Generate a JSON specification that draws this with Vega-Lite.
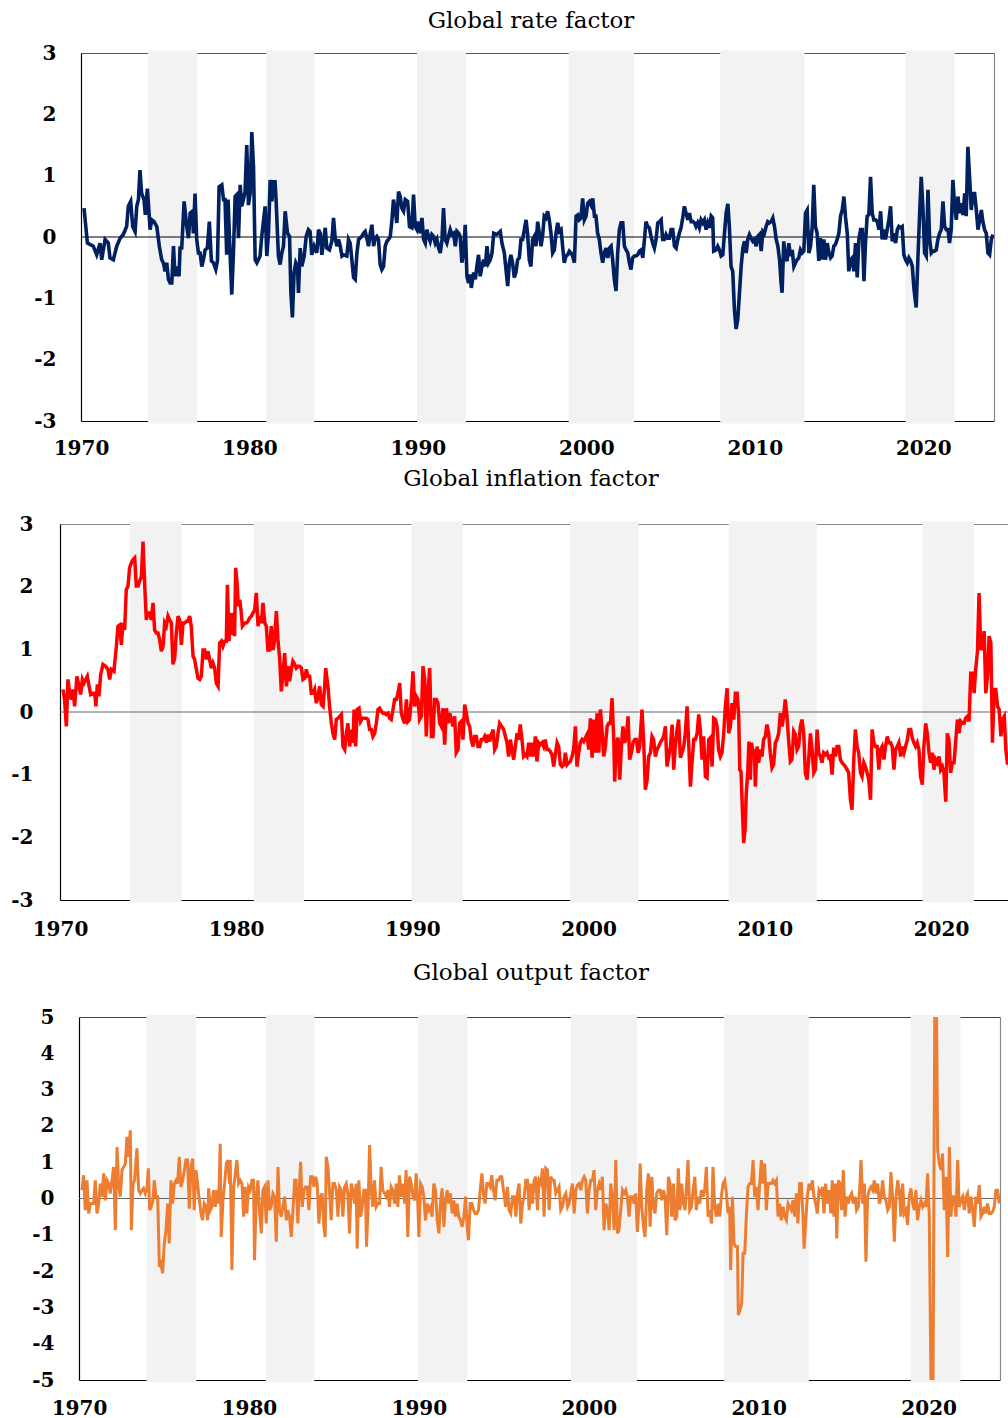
{
"$schema": "https://vega.github.io/schema/vega-lite/v6.json",
"padding": {"left": 0, "top": 10, "right": 0, "bottom": 0},
"background": "white",
"spacing": 10,
"config": {
  "view": {"stroke": null},
  "font": "DejaVu Serif",
  "axis": {"labelFont": "DejaVu Serif", "labelFontSize": 20, "labelFontWeight": "bold", "labelColor": "#000", "grid": false, "ticks": false, "title": null, "domainColor": "#000", "domainWidth": 1.2},
  "title": {"font": "DejaVu Serif", "fontSize": 23, "fontWeight": "normal", "color": "#000", "anchor": "middle", "frame": "group"}
},
"datasets": {
"bands": [{"s":1973.97,"e":1976.9},{"s":1981.0,"e":1983.85},{"s":1989.95,"e":1992.85},{"s":1998.95,"e":2002.83},{"s":2007.95,"e":2012.95},{"s":2018.95,"e":2021.87}],
"zero": [{"a":1970,"b":2024.2,"y":0}],
"rate": [
{"t":1970.18,"v":0.47},{"t":1970.38,"v":-0.1},{"t":1970.53,"v":-0.12},{"t":1970.73,"v":-0.15},{"t":1970.93,"v":-0.29},{"t":1971.13,"v":-0.1},{"t":1971.23,"v":-0.37},{"t":1971.43,"v":-0.04},{"t":1971.62,"v":-0.1},{"t":1971.72,"v":-0.34},{"t":1971.92,"v":-0.37},{"t":1972.12,"v":-0.15},{"t":1972.32,"v":-0.02},{"t":1972.51,"v":0.04},{"t":1972.71,"v":0.17},{"t":1972.81,"v":0.5},{"t":1972.95,"v":0.58},{"t":1973.07,"v":0.17},{"t":1973.21,"v":0.09},{"t":1973.31,"v":0.5},{"t":1973.41,"v":0.61},{"t":1973.5,"v":1.09},{"t":1973.6,"v":0.71},{"t":1973.74,"v":0.61},{"t":1973.82,"v":0.36},{"t":1973.94,"v":0.79},{"t":1974.04,"v":0.39},{"t":1974.1,"v":0.12},{"t":1974.2,"v":0.28},{"t":1974.34,"v":0.25},{"t":1974.5,"v":0.17},{"t":1974.65,"v":-0.15},{"t":1974.79,"v":-0.37},{"t":1974.89,"v":-0.42},{"t":1974.99,"v":-0.56},{"t":1975.09,"v":-0.42},{"t":1975.19,"v":-0.69},{"t":1975.29,"v":-0.75},{"t":1975.39,"v":-0.75},{"t":1975.49,"v":-0.15},{"t":1975.58,"v":-0.64},{"t":1975.68,"v":-0.48},{"t":1975.82,"v":-0.64},{"t":1975.88,"v":-0.18},{"t":1975.98,"v":-0.18},{"t":1976.12,"v":0.58},{"t":1976.28,"v":0.17},{"t":1976.38,"v":-0.02},{"t":1976.48,"v":0.39},{"t":1976.61,"v":0.42},{"t":1976.67,"v":0.06},{"t":1976.77,"v":0.71},{"t":1976.87,"v":-0.04},{"t":1976.97,"v":-0.26},{"t":1977.07,"v":-0.26},{"t":1977.17,"v":-0.48},{"t":1977.27,"v":-0.37},{"t":1977.37,"v":-0.21},{"t":1977.5,"v":-0.18},{"t":1977.62,"v":0.25},{"t":1977.74,"v":-0.39},{"t":1977.86,"v":-0.42},{"t":1978.0,"v":-0.53},{"t":1978.1,"v":-0.39},{"t":1978.2,"v":0.82},{"t":1978.36,"v":0.85},{"t":1978.46,"v":0.61},{"t":1978.55,"v":0.61},{"t":1978.65,"v":-0.29},{"t":1978.73,"v":0.61},{"t":1978.81,"v":0.01},{"t":1978.95,"v":-0.94},{"t":1979.05,"v":-0.26},{"t":1979.15,"v":0.66},{"t":1979.25,"v":0.69},{"t":1979.35,"v":-0.02},{"t":1979.45,"v":0.85},{"t":1979.54,"v":0.5},{"t":1979.64,"v":0.61},{"t":1979.74,"v":0.74},{"t":1979.84,"v":1.5},{"t":1979.94,"v":0.52},{"t":1980.04,"v":0.71},{"t":1980.14,"v":1.71},{"t":1980.24,"v":1.15},{"t":1980.34,"v":-0.37},{"t":1980.44,"v":-0.42},{"t":1980.53,"v":-0.37},{"t":1980.63,"v":-0.31},{"t":1980.73,"v":0.01},{"t":1980.93,"v":0.5},{"t":1981.03,"v":-0.31},{"t":1981.13,"v":0.06},{"t":1981.23,"v":0.93},{"t":1981.33,"v":0.58},{"t":1981.43,"v":0.9},{"t":1981.52,"v":0.9},{"t":1981.58,"v":0.61},{"t":1981.72,"v":-0.31},{"t":1981.82,"v":-0.45},{"t":1981.92,"v":-0.26},{"t":1982.02,"v":-0.15},{"t":1982.12,"v":0.42},{"t":1982.26,"v":0.06},{"t":1982.38,"v":0.01},{"t":1982.46,"v":-0.91},{"t":1982.55,"v":-1.31},{"t":1982.65,"v":-0.58},{"t":1982.75,"v":-0.42},{"t":1982.85,"v":-0.48},{"t":1982.91,"v":-0.91},{"t":1983.01,"v":-0.18},{"t":1983.11,"v":-0.48},{"t":1983.25,"v":-0.31},{"t":1983.37,"v":0.01},{"t":1983.5,"v":0.12},{"t":1983.6,"v":0.09},{"t":1983.7,"v":-0.29},{"t":1983.84,"v":-0.15},{"t":1984.0,"v":-0.26},{"t":1984.1,"v":0.12},{"t":1984.2,"v":0.06},{"t":1984.3,"v":-0.29},{"t":1984.5,"v":0.15},{"t":1984.59,"v":-0.18},{"t":1984.75,"v":-0.21},{"t":1984.89,"v":-0.07},{"t":1984.99,"v":0.31},{"t":1985.09,"v":-0.02},{"t":1985.19,"v":-0.15},{"t":1985.29,"v":-0.04},{"t":1985.39,"v":-0.15},{"t":1985.49,"v":-0.31},{"t":1985.58,"v":-0.29},{"t":1985.78,"v":-0.31},{"t":1985.88,"v":-0.04},{"t":1985.98,"v":-0.1},{"t":1986.08,"v":-0.37},{"t":1986.18,"v":-0.66},{"t":1986.28,"v":-0.69},{"t":1986.38,"v":-0.26},{"t":1986.48,"v":-0.04},{"t":1986.67,"v":0.01},{"t":1986.77,"v":0.06},{"t":1986.87,"v":0.09},{"t":1986.97,"v":-0.02},{"t":1987.07,"v":-0.15},{"t":1987.17,"v":0.06},{"t":1987.27,"v":0.2},{"t":1987.37,"v":-0.15},{"t":1987.47,"v":-0.02},{"t":1987.56,"v":0.01},{"t":1987.66,"v":-0.04},{"t":1987.76,"v":-0.45},{"t":1987.86,"v":-0.53},{"t":1987.96,"v":-0.48},{"t":1988.06,"v":-0.15},{"t":1988.16,"v":-0.07},{"t":1988.26,"v":-0.04},{"t":1988.36,"v":0.01},{"t":1988.46,"v":0.28},{"t":1988.55,"v":0.61},{"t":1988.65,"v":0.44},{"t":1988.75,"v":0.23},{"t":1988.85,"v":0.74},{"t":1988.95,"v":0.66},{"t":1989.05,"v":0.47},{"t":1989.15,"v":0.42},{"t":1989.25,"v":0.61},{"t":1989.39,"v":0.58},{"t":1989.5,"v":0.17},{"t":1989.64,"v":0.15},{"t":1989.74,"v":0.69},{"t":1989.84,"v":0.17},{"t":1989.94,"v":0.12},{"t":1990.04,"v":0.25},{"t":1990.14,"v":0.06},{"t":1990.24,"v":0.31},{"t":1990.34,"v":-0.04},{"t":1990.44,"v":-0.1},{"t":1990.53,"v":0.12},{"t":1990.63,"v":0.01},{"t":1990.73,"v":-0.07},{"t":1990.83,"v":0.04},{"t":1990.93,"v":0.01},{"t":1991.03,"v":-0.1},{"t":1991.13,"v":-0.04},{"t":1991.23,"v":-0.18},{"t":1991.33,"v":-0.26},{"t":1991.43,"v":-0.04},{"t":1991.52,"v":0.47},{"t":1991.62,"v":-0.04},{"t":1991.72,"v":-0.1},{"t":1991.82,"v":0.01},{"t":1991.92,"v":0.12},{"t":1992.02,"v":0.04},{"t":1992.12,"v":0.06},{"t":1992.22,"v":-0.15},{"t":1992.32,"v":0.09},{"t":1992.42,"v":0.06},{"t":1992.51,"v":0.01},{"t":1992.61,"v":-0.42},{"t":1992.71,"v":-0.26},{"t":1992.81,"v":0.2},{"t":1992.91,"v":-0.64},{"t":1993.01,"v":-0.75},{"t":1993.11,"v":-0.61},{"t":1993.17,"v":-0.83},{"t":1993.31,"v":-0.58},{"t":1993.41,"v":-0.69},{"t":1993.5,"v":-0.48},{"t":1993.6,"v":-0.29},{"t":1993.7,"v":-0.64},{"t":1993.8,"v":-0.48},{"t":1993.9,"v":-0.37},{"t":1994.0,"v":-0.48},{"t":1994.1,"v":-0.15},{"t":1994.2,"v":-0.42},{"t":1994.3,"v":-0.37},{"t":1994.4,"v":-0.26},{"t":1994.5,"v":0.06},{"t":1994.69,"v":0.04},{"t":1994.89,"v":0.09},{"t":1994.99,"v":-0.1},{"t":1995.13,"v":-0.26},{"t":1995.23,"v":-0.53},{"t":1995.33,"v":-0.8},{"t":1995.43,"v":-0.42},{"t":1995.52,"v":-0.29},{"t":1995.62,"v":-0.42},{"t":1995.72,"v":-0.66},{"t":1995.82,"v":-0.58},{"t":1995.92,"v":-0.37},{"t":1996.02,"v":-0.34},{"t":1996.12,"v":-0.04},{"t":1996.22,"v":-0.04},{"t":1996.32,"v":0.12},{"t":1996.42,"v":0.28},{"t":1996.51,"v":0.06},{"t":1996.61,"v":-0.37},{"t":1996.71,"v":-0.48},{"t":1996.81,"v":-0.04},{"t":1996.91,"v":0.01},{"t":1997.01,"v":-0.15},{"t":1997.11,"v":0.25},{"t":1997.21,"v":0.06},{"t":1997.31,"v":-0.15},{"t":1997.41,"v":0.04},{"t":1997.5,"v":0.34},{"t":1997.6,"v":0.31},{"t":1997.7,"v":0.42},{"t":1997.8,"v":0.28},{"t":1997.9,"v":0.06},{"t":1998.0,"v":-0.26},{"t":1998.1,"v":-0.21},{"t":1998.2,"v":0.06},{"t":1998.3,"v":0.23},{"t":1998.4,"v":0.09},{"t":1998.5,"v":0.12},{"t":1998.59,"v":-0.15},{"t":1998.69,"v":-0.42},{"t":1998.79,"v":-0.31},{"t":1998.89,"v":-0.29},{"t":1998.99,"v":-0.23},{"t":1999.09,"v":-0.26},{"t":1999.19,"v":-0.31},{"t":1999.29,"v":-0.42},{"t":1999.39,"v":0.34},{"t":1999.49,"v":0.36},{"t":1999.58,"v":0.28},{"t":1999.68,"v":0.31},{"t":1999.78,"v":0.63},{"t":1999.88,"v":0.28},{"t":1999.98,"v":0.34},{"t":2000.08,"v":0.55},{"t":2000.18,"v":0.58},{"t":2000.28,"v":0.52},{"t":2000.38,"v":0.63},{"t":2000.48,"v":0.34},{"t":2000.57,"v":0.34},{"t":2000.67,"v":0.06},{"t":2000.77,"v":-0.04},{"t":2000.87,"v":-0.26},{"t":2000.97,"v":-0.42},{"t":2001.07,"v":-0.26},{"t":2001.17,"v":-0.18},{"t":2001.27,"v":-0.34},{"t":2001.37,"v":-0.18},{"t":2001.47,"v":-0.15},{"t":2001.56,"v":-0.37},{"t":2001.66,"v":-0.69},{"t":2001.76,"v":-0.88},{"t":2001.86,"v":-0.26},{"t":2001.96,"v":0.12},{"t":2002.06,"v":0.23},{"t":2002.16,"v":0.23},{"t":2002.26,"v":-0.15},{"t":2002.36,"v":-0.21},{"t":2002.46,"v":-0.26},{"t":2002.55,"v":-0.42},{"t":2002.65,"v":-0.53},{"t":2002.75,"v":-0.34},{"t":2002.85,"v":-0.31},{"t":2002.95,"v":-0.31},{"t":2003.05,"v":-0.29},{"t":2003.15,"v":-0.23},{"t":2003.25,"v":-0.21},{"t":2003.35,"v":-0.34},{"t":2003.45,"v":-0.04},{"t":2003.54,"v":0.25},{"t":2003.64,"v":0.17},{"t":2003.74,"v":0.15},{"t":2003.84,"v":0.01},{"t":2003.94,"v":-0.1},{"t":2004.04,"v":-0.18},{"t":2004.14,"v":-0.04},{"t":2004.24,"v":0.23},{"t":2004.34,"v":0.25},{"t":2004.44,"v":0.28},{"t":2004.53,"v":-0.04},{"t":2004.63,"v":-0.04},{"t":2004.73,"v":0.04},{"t":2004.83,"v":-0.02},{"t":2004.93,"v":-0.02},{"t":2005.03,"v":0.12},{"t":2005.13,"v":0.12},{"t":2005.23,"v":-0.15},{"t":2005.33,"v":-0.18},{"t":2005.43,"v":-0.04},{"t":2005.52,"v":0.06},{"t":2005.62,"v":0.15},{"t":2005.72,"v":0.31},{"t":2005.82,"v":0.5},{"t":2005.92,"v":0.39},{"t":2006.02,"v":0.28},{"t":2006.12,"v":0.39},{"t":2006.22,"v":0.25},{"t":2006.32,"v":0.25},{"t":2006.42,"v":0.23},{"t":2006.51,"v":0.17},{"t":2006.61,"v":0.23},{"t":2006.71,"v":0.15},{"t":2006.81,"v":0.28},{"t":2006.91,"v":0.23},{"t":2007.01,"v":0.28},{"t":2007.11,"v":0.12},{"t":2007.21,"v":0.23},{"t":2007.31,"v":0.15},{"t":2007.41,"v":0.34},{"t":2007.5,"v":0.31},{"t":2007.56,"v":-0.23},{"t":2007.7,"v":-0.21},{"t":2007.8,"v":-0.15},{"t":2007.9,"v":-0.21},{"t":2008.0,"v":-0.31},{"t":2008.1,"v":-0.29},{"t":2008.2,"v":0.06},{"t":2008.3,"v":0.39},{"t":2008.4,"v":0.54},{"t":2008.49,"v":0.17},{"t":2008.59,"v":-0.48},{"t":2008.69,"v":-0.56},{"t":2008.79,"v":-1.18},{"t":2008.89,"v":-1.5},{"t":2008.99,"v":-1.34},{"t":2009.09,"v":-0.91},{"t":2009.19,"v":-0.48},{"t":2009.29,"v":-0.18},{"t":2009.39,"v":-0.07},{"t":2009.49,"v":-0.26},{"t":2009.58,"v":-0.04},{"t":2009.68,"v":0.04},{"t":2009.78,"v":-0.02},{"t":2009.88,"v":-0.07},{"t":2009.98,"v":-0.04},{"t":2010.08,"v":-0.15},{"t":2010.18,"v":0.01},{"t":2010.28,"v":0.04},{"t":2010.38,"v":-0.23},{"t":2010.48,"v":0.09},{"t":2010.57,"v":0.06},{"t":2010.67,"v":0.17},{"t":2010.77,"v":0.25},{"t":2010.87,"v":0.23},{"t":2010.97,"v":0.25},{"t":2011.07,"v":0.31},{"t":2011.17,"v":0.17},{"t":2011.27,"v":-0.04},{"t":2011.37,"v":-0.15},{"t":2011.47,"v":-0.37},{"t":2011.56,"v":-0.75},{"t":2011.62,"v":-0.91},{"t":2011.72,"v":-0.07},{"t":2011.82,"v":-0.37},{"t":2011.92,"v":-0.37},{"t":2012.02,"v":-0.1},{"t":2012.12,"v":-0.31},{"t":2012.22,"v":-0.21},{"t":2012.32,"v":-0.48},{"t":2012.42,"v":-0.42},{"t":2012.51,"v":-0.37},{"t":2012.61,"v":-0.34},{"t":2012.71,"v":-0.21},{"t":2012.81,"v":-0.26},{"t":2012.91,"v":-0.23},{"t":2013.01,"v":0.39},{"t":2013.11,"v":0.44},{"t":2013.21,"v":-0.26},{"t":2013.31,"v":-0.15},{"t":2013.41,"v":0.17},{"t":2013.5,"v":0.85},{"t":2013.6,"v":0.17},{"t":2013.7,"v":0.06},{"t":2013.8,"v":-0.39},{"t":2013.9,"v":-0.02},{"t":2014.0,"v":-0.37},{"t":2014.1,"v":-0.04},{"t":2014.2,"v":-0.37},{"t":2014.3,"v":-0.1},{"t":2014.4,"v":-0.26},{"t":2014.5,"v":-0.34},{"t":2014.59,"v":-0.31},{"t":2014.69,"v":-0.15},{"t":2014.79,"v":-0.12},{"t":2014.89,"v":-0.04},{"t":2014.99,"v":0.06},{"t":2015.09,"v":0.34},{"t":2015.19,"v":0.44},{"t":2015.29,"v":0.66},{"t":2015.39,"v":0.31},{"t":2015.49,"v":0.06},{"t":2015.58,"v":-0.56},{"t":2015.68,"v":-0.37},{"t":2015.78,"v":-0.34},{"t":2015.88,"v":-0.56},{"t":2015.98,"v":-0.1},{"t":2016.08,"v":-0.66},{"t":2016.18,"v":-0.04},{"t":2016.28,"v":0.12},{"t":2016.38,"v":0.12},{"t":2016.48,"v":-0.72},{"t":2016.57,"v":-0.1},{"t":2016.67,"v":0.34},{"t":2016.77,"v":0.36},{"t":2016.87,"v":0.98},{"t":2016.97,"v":0.39},{"t":2017.07,"v":0.28},{"t":2017.17,"v":0.28},{"t":2017.27,"v":0.25},{"t":2017.37,"v":0.12},{"t":2017.47,"v":0.42},{"t":2017.56,"v":-0.04},{"t":2017.66,"v":0.12},{"t":2017.76,"v":-0.04},{"t":2017.86,"v":0.12},{"t":2017.96,"v":0.28},{"t":2018.06,"v":0.5},{"t":2018.16,"v":-0.07},{"t":2018.26,"v":0.06},{"t":2018.36,"v":-0.1},{"t":2018.46,"v":0.12},{"t":2018.55,"v":0.17},{"t":2018.65,"v":0.15},{"t":2018.75,"v":0.17},{"t":2018.85,"v":-0.29},{"t":2018.95,"v":-0.37},{"t":2019.05,"v":-0.42},{"t":2019.15,"v":-0.34},{"t":2019.25,"v":-0.39},{"t":2019.35,"v":-0.48},{"t":2019.45,"v":-0.85},{"t":2019.58,"v":-1.15},{"t":2019.68,"v":-0.37},{"t":2019.78,"v":0.34},{"t":2019.88,"v":0.98},{"t":2019.98,"v":0.47},{"t":2020.08,"v":-0.26},{"t":2020.18,"v":-0.31},{"t":2020.28,"v":0.77},{"t":2020.38,"v":-0.04},{"t":2020.48,"v":-0.26},{"t":2020.57,"v":-0.23},{"t":2020.67,"v":-0.23},{"t":2020.77,"v":-0.21},{"t":2020.87,"v":-0.04},{"t":2020.97,"v":0.06},{"t":2021.07,"v":0.12},{"t":2021.17,"v":0.58},{"t":2021.27,"v":0.17},{"t":2021.37,"v":0.12},{"t":2021.47,"v":0.12},{"t":2021.56,"v":-0.1},{"t":2021.66,"v":0.12},{"t":2021.76,"v":0.93},{"t":2021.86,"v":0.52},{"t":2021.96,"v":0.28},{"t":2022.06,"v":0.66},{"t":2022.16,"v":0.39},{"t":2022.26,"v":0.55},{"t":2022.36,"v":0.36},{"t":2022.46,"v":0.71},{"t":2022.55,"v":0.34},{"t":2022.65,"v":1.47},{"t":2022.75,"v":0.98},{"t":2022.85,"v":0.44},{"t":2022.95,"v":0.71},{"t":2023.05,"v":0.71},{"t":2023.15,"v":0.44},{"t":2023.25,"v":0.12},{"t":2023.35,"v":0.28},{"t":2023.45,"v":0.44},{"t":2023.54,"v":0.25},{"t":2023.64,"v":0.12},{"t":2023.74,"v":0.06},{"t":2023.84,"v":-0.26},{"t":2023.94,"v":-0.29},{"t":2024.04,"v":-0.04},{"t":2024.14,"v":0.04}
],
"infl": [
{"t":1970.17,"v":0.36},{"t":1970.26,"v":0.2},{"t":1970.36,"v":-0.23},{"t":1970.45,"v":0.52},{"t":1970.55,"v":0.3},{"t":1970.64,"v":0.2},{"t":1970.74,"v":0.36},{"t":1970.83,"v":0.09},{"t":1970.96,"v":0.57},{"t":1971.08,"v":0.41},{"t":1971.17,"v":0.28},{"t":1971.27,"v":0.52},{"t":1971.36,"v":0.46},{"t":1971.46,"v":0.52},{"t":1971.55,"v":0.57},{"t":1971.65,"v":0.41},{"t":1971.74,"v":0.28},{"t":1971.87,"v":0.3},{"t":1971.97,"v":0.3},{"t":1972.04,"v":0.09},{"t":1972.12,"v":0.44},{"t":1972.21,"v":0.25},{"t":1972.31,"v":0.6},{"t":1972.44,"v":0.76},{"t":1972.59,"v":0.73},{"t":1972.72,"v":0.68},{"t":1972.82,"v":0.52},{"t":1972.91,"v":0.68},{"t":1973.06,"v":0.65},{"t":1973.2,"v":1.05},{"t":1973.29,"v":1.37},{"t":1973.39,"v":1.39},{"t":1973.48,"v":1.07},{"t":1973.58,"v":1.42},{"t":1973.67,"v":1.31},{"t":1973.76,"v":1.95},{"t":1973.86,"v":2.01},{"t":1973.95,"v":2.3},{"t":1974.05,"v":2.38},{"t":1974.14,"v":2.43},{"t":1974.24,"v":2.46},{"t":1974.33,"v":2.01},{"t":1974.43,"v":2.01},{"t":1974.52,"v":2.09},{"t":1974.62,"v":2.16},{"t":1974.71,"v":2.72},{"t":1974.81,"v":2.01},{"t":1974.9,"v":1.47},{"t":1974.99,"v":1.58},{"t":1975.09,"v":1.58},{"t":1975.18,"v":1.47},{"t":1975.28,"v":1.74},{"t":1975.37,"v":1.31},{"t":1975.47,"v":1.26},{"t":1975.56,"v":1.26},{"t":1975.66,"v":1.15},{"t":1975.75,"v":0.97},{"t":1975.85,"v":1.05},{"t":1975.94,"v":1.42},{"t":1976.03,"v":1.37},{"t":1976.13,"v":1.53},{"t":1976.22,"v":1.47},{"t":1976.32,"v":1.42},{"t":1976.41,"v":0.76},{"t":1976.51,"v":0.86},{"t":1976.6,"v":1.26},{"t":1976.7,"v":1.53},{"t":1976.79,"v":1.47},{"t":1976.89,"v":1.07},{"t":1976.98,"v":1.42},{"t":1977.08,"v":1.42},{"t":1977.17,"v":1.45},{"t":1977.26,"v":1.45},{"t":1977.36,"v":1.53},{"t":1977.45,"v":1.37},{"t":1977.55,"v":0.89},{"t":1977.64,"v":0.84},{"t":1977.74,"v":0.68},{"t":1977.83,"v":0.54},{"t":1977.93,"v":0.52},{"t":1978.02,"v":0.57},{"t":1978.12,"v":0.99},{"t":1978.21,"v":0.99},{"t":1978.31,"v":0.84},{"t":1978.4,"v":0.97},{"t":1978.49,"v":0.84},{"t":1978.59,"v":0.7},{"t":1978.68,"v":0.78},{"t":1978.78,"v":0.7},{"t":1978.87,"v":0.46},{"t":1978.97,"v":0.41},{"t":1979.06,"v":1.1},{"t":1979.16,"v":1.13},{"t":1979.25,"v":1.05},{"t":1979.35,"v":1.13},{"t":1979.44,"v":1.13},{"t":1979.5,"v":2.03},{"t":1979.59,"v":1.13},{"t":1979.67,"v":1.58},{"t":1979.76,"v":1.23},{"t":1979.86,"v":1.58},{"t":1979.91,"v":1.21},{"t":1979.97,"v":2.3},{"t":1980.05,"v":2.06},{"t":1980.12,"v":1.69},{"t":1980.2,"v":1.79},{"t":1980.27,"v":1.63},{"t":1980.35,"v":1.37},{"t":1980.48,"v":1.42},{"t":1980.58,"v":1.42},{"t":1980.67,"v":1.45},{"t":1980.76,"v":1.5},{"t":1980.86,"v":1.53},{"t":1980.95,"v":1.58},{"t":1981.05,"v":1.63},{"t":1981.14,"v":1.9},{"t":1981.24,"v":1.37},{"t":1981.33,"v":1.53},{"t":1981.43,"v":1.42},{"t":1981.52,"v":1.74},{"t":1981.62,"v":1.42},{"t":1981.71,"v":1.37},{"t":1981.8,"v":0.99},{"t":1981.9,"v":0.99},{"t":1981.99,"v":1.37},{"t":1982.09,"v":0.99},{"t":1982.18,"v":1.15},{"t":1982.28,"v":1.61},{"t":1982.37,"v":1.15},{"t":1982.47,"v":0.84},{"t":1982.56,"v":0.33},{"t":1982.66,"v":0.62},{"t":1982.75,"v":0.94},{"t":1982.85,"v":0.41},{"t":1982.94,"v":0.73},{"t":1983.03,"v":0.49},{"t":1983.13,"v":0.68},{"t":1983.22,"v":0.81},{"t":1983.32,"v":0.76},{"t":1983.41,"v":0.7},{"t":1983.51,"v":0.73},{"t":1983.6,"v":0.73},{"t":1983.7,"v":0.7},{"t":1983.79,"v":0.52},{"t":1983.89,"v":0.54},{"t":1983.98,"v":0.68},{"t":1984.07,"v":0.57},{"t":1984.17,"v":0.57},{"t":1984.26,"v":0.3},{"t":1984.36,"v":0.3},{"t":1984.45,"v":0.36},{"t":1984.55,"v":0.14},{"t":1984.64,"v":0.25},{"t":1984.74,"v":0.41},{"t":1984.83,"v":0.12},{"t":1984.93,"v":0.09},{"t":1985.02,"v":0.41},{"t":1985.08,"v":0.7},{"t":1985.21,"v":0.41},{"t":1985.3,"v":0.09},{"t":1985.4,"v":-0.18},{"t":1985.49,"v":-0.34},{"t":1985.59,"v":-0.44},{"t":1985.68,"v":-0.12},{"t":1985.78,"v":-0.1},{"t":1985.87,"v":-0.07},{"t":1985.97,"v":-0.04},{"t":1986.06,"v":-0.55},{"t":1986.16,"v":-0.6},{"t":1986.25,"v":-0.34},{"t":1986.34,"v":-0.18},{"t":1986.44,"v":-0.55},{"t":1986.53,"v":-0.28},{"t":1986.63,"v":-0.49},{"t":1986.69,"v":0.04},{"t":1986.78,"v":-0.55},{"t":1986.87,"v":0.04},{"t":1986.97,"v":0.06},{"t":1987.06,"v":-0.15},{"t":1987.16,"v":-0.1},{"t":1987.29,"v":-0.1},{"t":1987.39,"v":-0.1},{"t":1987.48,"v":-0.12},{"t":1987.57,"v":-0.28},{"t":1987.67,"v":-0.28},{"t":1987.76,"v":-0.39},{"t":1987.86,"v":-0.34},{"t":1987.95,"v":-0.18},{"t":1988.05,"v":0.04},{"t":1988.14,"v":0.06},{"t":1988.24,"v":0.01},{"t":1988.33,"v":-0.02},{"t":1988.43,"v":-0.02},{"t":1988.52,"v":-0.04},{"t":1988.62,"v":-0.02},{"t":1988.71,"v":-0.1},{"t":1988.8,"v":-0.12},{"t":1988.9,"v":0.04},{"t":1988.99,"v":0.2},{"t":1989.09,"v":0.2},{"t":1989.18,"v":0.3},{"t":1989.28,"v":0.46},{"t":1989.37,"v":-0.02},{"t":1989.47,"v":-0.12},{"t":1989.56,"v":-0.18},{"t":1989.66,"v":0.2},{"t":1989.75,"v":-0.15},{"t":1989.84,"v":-0.12},{"t":1989.94,"v":0.2},{"t":1990.03,"v":0.65},{"t":1990.13,"v":0.09},{"t":1990.22,"v":0.25},{"t":1990.32,"v":0.2},{"t":1990.41,"v":-0.12},{"t":1990.51,"v":-0.07},{"t":1990.6,"v":0.73},{"t":1990.7,"v":0.52},{"t":1990.79,"v":-0.39},{"t":1990.89,"v":0.3},{"t":1990.98,"v":0.7},{"t":1991.08,"v":-0.39},{"t":1991.17,"v":-0.39},{"t":1991.26,"v":0.2},{"t":1991.36,"v":0.2},{"t":1991.45,"v":0.14},{"t":1991.55,"v":-0.18},{"t":1991.64,"v":-0.23},{"t":1991.74,"v":0.06},{"t":1991.83,"v":-0.52},{"t":1991.93,"v":0.06},{"t":1992.02,"v":-0.18},{"t":1992.12,"v":-0.02},{"t":1992.21,"v":-0.12},{"t":1992.3,"v":-0.23},{"t":1992.4,"v":-0.07},{"t":1992.49,"v":-0.65},{"t":1992.59,"v":-0.6},{"t":1992.68,"v":-0.18},{"t":1992.78,"v":-0.15},{"t":1992.87,"v":-0.44},{"t":1992.97,"v":0.12},{"t":1993.06,"v":-0.02},{"t":1993.16,"v":-0.18},{"t":1993.25,"v":-0.23},{"t":1993.34,"v":-0.44},{"t":1993.44,"v":-0.55},{"t":1993.53,"v":-0.39},{"t":1993.63,"v":-0.39},{"t":1993.72,"v":-0.55},{"t":1993.82,"v":-0.55},{"t":1993.91,"v":-0.44},{"t":1994.01,"v":-0.44},{"t":1994.1,"v":-0.39},{"t":1994.2,"v":-0.49},{"t":1994.29,"v":-0.36},{"t":1994.39,"v":-0.47},{"t":1994.48,"v":-0.36},{"t":1994.58,"v":-0.28},{"t":1994.67,"v":-0.6},{"t":1994.76,"v":-0.55},{"t":1994.86,"v":-0.34},{"t":1994.95,"v":-0.18},{"t":1995.18,"v":-0.28},{"t":1995.37,"v":-0.49},{"t":1995.46,"v":-0.71},{"t":1995.56,"v":-0.44},{"t":1995.65,"v":-0.6},{"t":1995.75,"v":-0.76},{"t":1995.84,"v":-0.55},{"t":1995.94,"v":-0.34},{"t":1996.03,"v":-0.44},{"t":1996.12,"v":-0.2},{"t":1996.22,"v":-0.44},{"t":1996.31,"v":-0.71},{"t":1996.41,"v":-0.68},{"t":1996.5,"v":-0.71},{"t":1996.6,"v":-0.49},{"t":1996.69,"v":-0.71},{"t":1996.79,"v":-0.49},{"t":1996.88,"v":-0.71},{"t":1996.98,"v":-0.39},{"t":1997.07,"v":-0.79},{"t":1997.17,"v":-0.49},{"t":1997.26,"v":-0.52},{"t":1997.36,"v":-0.49},{"t":1997.45,"v":-0.55},{"t":1997.54,"v":-0.44},{"t":1997.64,"v":-0.6},{"t":1997.73,"v":-0.6},{"t":1997.83,"v":-0.63},{"t":1997.92,"v":-0.68},{"t":1998.02,"v":-0.87},{"t":1998.11,"v":-0.68},{"t":1998.21,"v":-0.49},{"t":1998.3,"v":-0.55},{"t":1998.4,"v":-0.84},{"t":1998.49,"v":-0.87},{"t":1998.59,"v":-0.84},{"t":1998.68,"v":-0.65},{"t":1998.78,"v":-0.84},{"t":1998.87,"v":-0.81},{"t":1998.96,"v":-0.79},{"t":1999.06,"v":-0.71},{"t":1999.15,"v":-0.6},{"t":1999.25,"v":-0.23},{"t":1999.34,"v":-0.87},{"t":1999.44,"v":-0.65},{"t":1999.53,"v":-0.49},{"t":1999.63,"v":-0.44},{"t":1999.72,"v":-0.47},{"t":1999.82,"v":-0.41},{"t":1999.91,"v":-0.36},{"t":2000.01,"v":-0.6},{"t":2000.1,"v":-0.1},{"t":2000.2,"v":-0.73},{"t":2000.29,"v":-0.12},{"t":2000.39,"v":-0.65},{"t":2000.48,"v":-0.02},{"t":2000.58,"v":-0.65},{"t":2000.67,"v":0.04},{"t":2000.76,"v":-0.28},{"t":2000.86,"v":-0.71},{"t":2000.95,"v":-0.55},{"t":2001.05,"v":-0.23},{"t":2001.14,"v":-0.18},{"t":2001.24,"v":-0.18},{"t":2001.33,"v":0.22},{"t":2001.43,"v":-0.44},{"t":2001.48,"v":-1.11},{"t":2001.58,"v":-0.49},{"t":2001.67,"v":-0.41},{"t":2001.77,"v":-1.08},{"t":2001.86,"v":-0.55},{"t":2001.95,"v":-0.23},{"t":2002.05,"v":-0.49},{"t":2002.14,"v":-0.39},{"t":2002.24,"v":-0.07},{"t":2002.33,"v":-0.76},{"t":2002.43,"v":-0.65},{"t":2002.52,"v":-0.49},{"t":2002.62,"v":-0.44},{"t":2002.71,"v":-0.44},{"t":2002.81,"v":-0.65},{"t":2002.9,"v":-0.55},{"t":2003.03,"v":0.04},{"t":2003.13,"v":-0.49},{"t":2003.22,"v":-1.24},{"t":2003.32,"v":-1.08},{"t":2003.41,"v":-0.71},{"t":2003.51,"v":-0.65},{"t":2003.6,"v":-0.39},{"t":2003.69,"v":-0.44},{"t":2003.79,"v":-0.71},{"t":2003.88,"v":-0.6},{"t":2003.98,"v":-0.55},{"t":2004.07,"v":-0.49},{"t":2004.17,"v":-0.44},{"t":2004.26,"v":-0.39},{"t":2004.36,"v":-0.23},{"t":2004.45,"v":-0.87},{"t":2004.55,"v":-0.71},{"t":2004.64,"v":-0.55},{"t":2004.74,"v":-0.2},{"t":2004.83,"v":-0.92},{"t":2004.92,"v":-0.55},{"t":2005.02,"v":-0.28},{"t":2005.11,"v":-0.12},{"t":2005.21,"v":-0.73},{"t":2005.3,"v":-0.65},{"t":2005.4,"v":-0.55},{"t":2005.49,"v":-0.34},{"t":2005.59,"v":0.09},{"t":2005.68,"v":-0.49},{"t":2005.78,"v":-1.19},{"t":2005.87,"v":-0.81},{"t":2005.97,"v":-0.44},{"t":2006.06,"v":-0.44},{"t":2006.16,"v":-0.34},{"t":2006.25,"v":-0.04},{"t":2006.34,"v":-0.28},{"t":2006.44,"v":-0.76},{"t":2006.53,"v":-0.39},{"t":2006.63,"v":-1.03},{"t":2006.72,"v":-1.05},{"t":2006.82,"v":-0.44},{"t":2006.91,"v":-0.41},{"t":2007.01,"v":-0.87},{"t":2007.1,"v":-0.1},{"t":2007.2,"v":-0.12},{"t":2007.29,"v":-0.23},{"t":2007.38,"v":-0.6},{"t":2007.48,"v":-0.71},{"t":2007.57,"v":-0.65},{"t":2007.67,"v":-0.34},{"t":2007.76,"v":0.09},{"t":2007.86,"v":0.38},{"t":2007.95,"v":-0.34},{"t":2008.05,"v":-0.23},{"t":2008.14,"v":0.14},{"t":2008.24,"v":-0.12},{"t":2008.33,"v":0.3},{"t":2008.43,"v":0.3},{"t":2008.52,"v":-0.07},{"t":2008.58,"v":-0.92},{"t":2008.65,"v":-0.95},{"t":2008.73,"v":-1.56},{"t":2008.8,"v":-2.09},{"t":2008.88,"v":-1.88},{"t":2008.95,"v":-1.29},{"t":2009.03,"v":-0.97},{"t":2009.1,"v":-0.47},{"t":2009.18,"v":-1.08},{"t":2009.25,"v":-0.49},{"t":2009.33,"v":-0.65},{"t":2009.41,"v":-0.6},{"t":2009.46,"v":-1.19},{"t":2009.56,"v":-0.55},{"t":2009.65,"v":-0.81},{"t":2009.75,"v":-0.6},{"t":2009.84,"v":-0.71},{"t":2009.93,"v":-0.44},{"t":2010.03,"v":-0.39},{"t":2010.12,"v":-0.2},{"t":2010.22,"v":-0.34},{"t":2010.31,"v":-0.65},{"t":2010.41,"v":-0.89},{"t":2010.5,"v":-0.84},{"t":2010.6,"v":-0.49},{"t":2010.69,"v":-0.44},{"t":2010.79,"v":-0.34},{"t":2010.88,"v":-0.02},{"t":2010.98,"v":-0.23},{"t":2011.07,"v":-0.07},{"t":2011.16,"v":0.2},{"t":2011.26,"v":-0.07},{"t":2011.35,"v":-0.44},{"t":2011.45,"v":-0.79},{"t":2011.54,"v":-0.76},{"t":2011.64,"v":-0.31},{"t":2011.73,"v":-0.36},{"t":2011.83,"v":-0.6},{"t":2011.92,"v":-0.55},{"t":2012.02,"v":-0.23},{"t":2012.11,"v":-0.12},{"t":2012.21,"v":-0.34},{"t":2012.3,"v":-0.97},{"t":2012.4,"v":-1.08},{"t":2012.49,"v":-0.76},{"t":2012.59,"v":-0.34},{"t":2012.68,"v":-0.6},{"t":2012.78,"v":-0.97},{"t":2012.87,"v":-0.92},{"t":2012.97,"v":-0.28},{"t":2013.06,"v":-0.65},{"t":2013.15,"v":-0.71},{"t":2013.25,"v":-0.81},{"t":2013.34,"v":-0.65},{"t":2013.44,"v":-0.68},{"t":2013.53,"v":-0.65},{"t":2013.63,"v":-0.73},{"t":2013.72,"v":-0.71},{"t":2013.82,"v":-1.0},{"t":2013.91,"v":-0.57},{"t":2014.01,"v":-0.71},{"t":2014.1,"v":-0.55},{"t":2014.2,"v":-0.55},{"t":2014.29,"v":-0.76},{"t":2014.39,"v":-0.81},{"t":2014.48,"v":-0.84},{"t":2014.57,"v":-0.87},{"t":2014.67,"v":-0.92},{"t":2014.76,"v":-0.97},{"t":2014.86,"v":-1.4},{"t":2014.95,"v":-1.56},{"t":2015.05,"v":-0.76},{"t":2015.14,"v":-0.28},{"t":2015.24,"v":-0.55},{"t":2015.33,"v":-0.65},{"t":2015.43,"v":-0.97},{"t":2015.52,"v":-1.03},{"t":2015.62,"v":-0.81},{"t":2015.71,"v":-0.87},{"t":2015.81,"v":-0.97},{"t":2015.9,"v":-1.08},{"t":2016.0,"v":-1.4},{"t":2016.09,"v":-0.28},{"t":2016.19,"v":-0.49},{"t":2016.28,"v":-0.55},{"t":2016.38,"v":-0.55},{"t":2016.47,"v":-0.92},{"t":2016.57,"v":-0.6},{"t":2016.66,"v":-0.55},{"t":2016.76,"v":-0.76},{"t":2016.85,"v":-0.55},{"t":2016.95,"v":-0.39},{"t":2017.04,"v":-0.49},{"t":2017.14,"v":-0.49},{"t":2017.23,"v":-0.55},{"t":2017.33,"v":-0.92},{"t":2017.42,"v":-0.6},{"t":2017.52,"v":-0.55},{"t":2017.61,"v":-0.49},{"t":2017.71,"v":-0.71},{"t":2017.8,"v":-0.55},{"t":2017.9,"v":-0.65},{"t":2017.99,"v":-0.55},{"t":2018.09,"v":-0.44},{"t":2018.18,"v":-0.28},{"t":2018.28,"v":-0.28},{"t":2018.37,"v":-0.41},{"t":2018.46,"v":-0.49},{"t":2018.56,"v":-0.55},{"t":2018.65,"v":-0.49},{"t":2018.75,"v":-0.6},{"t":2018.84,"v":-1.03},{"t":2018.94,"v":-1.16},{"t":2019.03,"v":-0.55},{"t":2019.13,"v":-0.18},{"t":2019.22,"v":-0.34},{"t":2019.32,"v":-0.65},{"t":2019.41,"v":-0.81},{"t":2019.51,"v":-0.65},{"t":2019.6,"v":-0.92},{"t":2019.7,"v":-0.76},{"t":2019.79,"v":-0.81},{"t":2019.89,"v":-0.71},{"t":2019.98,"v":-0.92},{"t":2020.08,"v":-0.87},{"t":2020.17,"v":-0.97},{"t":2020.27,"v":-1.43},{"t":2020.36,"v":-0.34},{"t":2020.45,"v":-0.44},{"t":2020.55,"v":-0.97},{"t":2020.64,"v":-0.81},{"t":2020.74,"v":-0.81},{"t":2020.83,"v":-0.49},{"t":2020.93,"v":-0.12},{"t":2021.02,"v":-0.34},{"t":2021.12,"v":-0.15},{"t":2021.21,"v":-0.18},{"t":2021.31,"v":-0.18},{"t":2021.4,"v":-0.1},{"t":2021.5,"v":-0.07},{"t":2021.59,"v":-0.15},{"t":2021.69,"v":0.62},{"t":2021.78,"v":0.62},{"t":2021.88,"v":0.3},{"t":2021.97,"v":0.68},{"t":2022.07,"v":0.97},{"t":2022.16,"v":1.9},{"t":2022.26,"v":0.99},{"t":2022.35,"v":1.05},{"t":2022.45,"v":1.29},{"t":2022.54,"v":0.3},{"t":2022.64,"v":0.57},{"t":2022.73,"v":1.21},{"t":2022.83,"v":1.1},{"t":2022.92,"v":-0.49},{"t":2023.02,"v":0.36},{"t":2023.11,"v":0.36},{"t":2023.21,"v":0.09},{"t":2023.3,"v":0.04},{"t":2023.4,"v":-0.39},{"t":2023.49,"v":-0.12},{"t":2023.59,"v":-0.07},{"t":2023.68,"v":-0.6},{"t":2023.78,"v":-0.84},{"t":2023.9,"v":-0.7},{"t":2024.05,"v":-0.6}
],
"out": [
{"t":1970.18,"v":0.23},{"t":1970.27,"v":0.64},{"t":1970.37,"v":-0.32},{"t":1970.47,"v":0.5},{"t":1970.57,"v":-0.41},{"t":1970.67,"v":-0.14},{"t":1970.76,"v":-0.14},{"t":1970.86,"v":-0.14},{"t":1970.96,"v":0.5},{"t":1971.06,"v":-0.41},{"t":1971.16,"v":-0.14},{"t":1971.25,"v":0.41},{"t":1971.35,"v":0.05},{"t":1971.45,"v":0.69},{"t":1971.55,"v":-0.05},{"t":1971.65,"v":0.5},{"t":1971.75,"v":0.41},{"t":1971.84,"v":0.14},{"t":1971.94,"v":0.5},{"t":1972.04,"v":0.87},{"t":1972.14,"v":-0.87},{"t":1972.24,"v":1.42},{"t":1972.33,"v":0.41},{"t":1972.43,"v":0.05},{"t":1972.53,"v":0.78},{"t":1972.63,"v":0.87},{"t":1972.73,"v":0.96},{"t":1972.82,"v":1.7},{"t":1972.92,"v":1.15},{"t":1973.02,"v":1.88},{"t":1973.08,"v":-0.87},{"t":1973.18,"v":0.41},{"t":1973.27,"v":0.5},{"t":1973.41,"v":1.38},{"t":1973.51,"v":0.23},{"t":1973.61,"v":0.14},{"t":1973.71,"v":0.23},{"t":1973.8,"v":0.28},{"t":1973.9,"v":0.14},{"t":1974.0,"v":0.28},{"t":1974.08,"v":0.83},{"t":1974.16,"v":-0.32},{"t":1974.25,"v":-0.23},{"t":1974.35,"v":-0.05},{"t":1974.43,"v":0.5},{"t":1974.53,"v":0.05},{"t":1974.63,"v":0.05},{"t":1974.73,"v":-1.88},{"t":1974.82,"v":-1.79},{"t":1974.92,"v":-2.06},{"t":1975.02,"v":-1.24},{"t":1975.12,"v":-0.87},{"t":1975.22,"v":-0.14},{"t":1975.31,"v":-1.24},{"t":1975.41,"v":0.5},{"t":1975.51,"v":-0.14},{"t":1975.61,"v":0.41},{"t":1975.71,"v":0.5},{"t":1975.8,"v":0.41},{"t":1975.9,"v":1.15},{"t":1976.0,"v":0.32},{"t":1976.1,"v":0.5},{"t":1976.2,"v":0.78},{"t":1976.29,"v":1.06},{"t":1976.39,"v":1.06},{"t":1976.49,"v":-0.28},{"t":1976.59,"v":0.87},{"t":1976.69,"v":1.1},{"t":1976.78,"v":-0.32},{"t":1976.88,"v":0.78},{"t":1976.98,"v":0.41},{"t":1977.08,"v":-0.05},{"t":1977.18,"v":-0.41},{"t":1977.27,"v":-0.6},{"t":1977.37,"v":-0.14},{"t":1977.47,"v":-0.23},{"t":1977.57,"v":-0.6},{"t":1977.63,"v":0.28},{"t":1977.73,"v":-0.32},{"t":1977.82,"v":-0.23},{"t":1977.92,"v":0.23},{"t":1978.02,"v":-0.23},{"t":1978.12,"v":0.23},{"t":1978.22,"v":-0.14},{"t":1978.31,"v":1.51},{"t":1978.37,"v":-1.06},{"t":1978.47,"v":-0.05},{"t":1978.57,"v":0.41},{"t":1978.67,"v":0.96},{"t":1978.76,"v":1.06},{"t":1978.86,"v":0.41},{"t":1978.9,"v":1.06},{"t":1979.0,"v":-1.97},{"t":1979.1,"v":0.32},{"t":1979.2,"v":0.69},{"t":1979.29,"v":1.06},{"t":1979.39,"v":0.41},{"t":1979.49,"v":0.5},{"t":1979.59,"v":0.41},{"t":1979.69,"v":-0.5},{"t":1979.78,"v":0.32},{"t":1979.88,"v":-0.41},{"t":1979.98,"v":0.32},{"t":1980.08,"v":0.23},{"t":1980.18,"v":0.5},{"t":1980.27,"v":0.5},{"t":1980.33,"v":-1.7},{"t":1980.43,"v":0.05},{"t":1980.53,"v":0.5},{"t":1980.63,"v":-0.41},{"t":1980.73,"v":-0.96},{"t":1980.82,"v":0.23},{"t":1980.92,"v":0.32},{"t":1981.02,"v":-0.69},{"t":1981.12,"v":0.5},{"t":1981.22,"v":-0.32},{"t":1981.31,"v":-0.23},{"t":1981.41,"v":0.14},{"t":1981.51,"v":0.05},{"t":1981.61,"v":-1.19},{"t":1981.71,"v":0.87},{"t":1981.8,"v":-0.32},{"t":1981.9,"v":-0.5},{"t":1982.0,"v":-0.23},{"t":1982.1,"v":0.05},{"t":1982.2,"v":-0.6},{"t":1982.29,"v":-0.32},{"t":1982.39,"v":-0.5},{"t":1982.49,"v":-1.06},{"t":1982.59,"v":-0.32},{"t":1982.69,"v":0.5},{"t":1982.78,"v":0.5},{"t":1982.88,"v":-0.69},{"t":1982.98,"v":0.41},{"t":1983.04,"v":1.01},{"t":1983.14,"v":-0.23},{"t":1983.24,"v":0.23},{"t":1983.33,"v":0.32},{"t":1983.43,"v":0.32},{"t":1983.53,"v":-0.32},{"t":1983.63,"v":0.6},{"t":1983.73,"v":0.6},{"t":1983.82,"v":0.32},{"t":1983.92,"v":0.6},{"t":1984.02,"v":0.41},{"t":1984.12,"v":-0.69},{"t":1984.22,"v":0.05},{"t":1984.31,"v":0.14},{"t":1984.41,"v":-0.78},{"t":1984.49,"v":-1.06},{"t":1984.55,"v":1.15},{"t":1984.65,"v":0.87},{"t":1984.75,"v":0.14},{"t":1984.84,"v":-0.6},{"t":1984.94,"v":0.41},{"t":1985.04,"v":0.41},{"t":1985.14,"v":0.23},{"t":1985.24,"v":-0.5},{"t":1985.33,"v":0.32},{"t":1985.43,"v":0.23},{"t":1985.53,"v":-0.5},{"t":1985.63,"v":0.32},{"t":1985.73,"v":0.41},{"t":1985.82,"v":0.14},{"t":1985.92,"v":-0.96},{"t":1986.02,"v":0.41},{"t":1986.12,"v":0.23},{"t":1986.22,"v":-0.14},{"t":1986.31,"v":0.41},{"t":1986.37,"v":-1.38},{"t":1986.47,"v":0.5},{"t":1986.57,"v":-0.5},{"t":1986.67,"v":-0.23},{"t":1986.76,"v":0.23},{"t":1986.86,"v":0.23},{"t":1986.92,"v":-1.33},{"t":1987.02,"v":-0.14},{"t":1987.1,"v":1.47},{"t":1987.2,"v":0.23},{"t":1987.29,"v":-0.23},{"t":1987.39,"v":0.5},{"t":1987.49,"v":-0.23},{"t":1987.59,"v":-0.14},{"t":1987.69,"v":-0.14},{"t":1987.78,"v":0.87},{"t":1987.88,"v":0.23},{"t":1987.98,"v":0.14},{"t":1988.08,"v":0.05},{"t":1988.18,"v":0.23},{"t":1988.27,"v":-0.23},{"t":1988.37,"v":0.32},{"t":1988.47,"v":0.23},{"t":1988.57,"v":-0.14},{"t":1988.67,"v":0.41},{"t":1988.76,"v":-0.23},{"t":1988.86,"v":0.64},{"t":1988.96,"v":0.05},{"t":1989.06,"v":0.41},{"t":1989.16,"v":-0.14},{"t":1989.25,"v":0.78},{"t":1989.35,"v":-1.06},{"t":1989.45,"v":0.6},{"t":1989.55,"v":0.41},{"t":1989.65,"v":0.05},{"t":1989.75,"v":-0.05},{"t":1989.84,"v":0.69},{"t":1989.94,"v":-0.14},{"t":1990.0,"v":-1.06},{"t":1990.1,"v":0.41},{"t":1990.2,"v":0.32},{"t":1990.29,"v":0.05},{"t":1990.39,"v":-0.6},{"t":1990.49,"v":-0.14},{"t":1990.59,"v":-0.32},{"t":1990.69,"v":-0.23},{"t":1990.78,"v":-0.5},{"t":1990.88,"v":0.41},{"t":1990.98,"v":0.23},{"t":1991.08,"v":-0.6},{"t":1991.18,"v":-0.96},{"t":1991.27,"v":-0.14},{"t":1991.37,"v":0.28},{"t":1991.47,"v":-0.78},{"t":1991.57,"v":-0.05},{"t":1991.67,"v":0.23},{"t":1991.76,"v":-0.14},{"t":1991.86,"v":0.14},{"t":1991.96,"v":-0.41},{"t":1992.06,"v":-0.05},{"t":1992.16,"v":-0.5},{"t":1992.25,"v":-0.14},{"t":1992.35,"v":-0.5},{"t":1992.45,"v":-0.6},{"t":1992.55,"v":-0.78},{"t":1992.65,"v":-0.5},{"t":1992.75,"v":0.05},{"t":1992.84,"v":-0.78},{"t":1992.92,"v":-1.15},{"t":1993.02,"v":-0.14},{"t":1993.12,"v":-0.14},{"t":1993.22,"v":-0.32},{"t":1993.31,"v":-0.41},{"t":1993.41,"v":-0.41},{"t":1993.51,"v":-0.32},{"t":1993.61,"v":0.23},{"t":1993.71,"v":0.69},{"t":1993.8,"v":0.14},{"t":1993.9,"v":-0.14},{"t":1994.0,"v":0.41},{"t":1994.1,"v":0.41},{"t":1994.2,"v":0.32},{"t":1994.29,"v":0.64},{"t":1994.39,"v":0.23},{"t":1994.49,"v":-0.05},{"t":1994.59,"v":0.5},{"t":1994.69,"v":0.5},{"t":1994.78,"v":0.6},{"t":1994.88,"v":0.6},{"t":1994.98,"v":0.23},{"t":1995.11,"v":-0.23},{"t":1995.21,"v":0.32},{"t":1995.31,"v":-0.32},{"t":1995.41,"v":-0.41},{"t":1995.51,"v":0.05},{"t":1995.61,"v":0.05},{"t":1995.71,"v":-0.5},{"t":1995.8,"v":0.14},{"t":1995.9,"v":0.41},{"t":1996.0,"v":-0.69},{"t":1996.1,"v":-0.14},{"t":1996.2,"v":0.05},{"t":1996.29,"v":0.5},{"t":1996.39,"v":0.5},{"t":1996.49,"v":-0.32},{"t":1996.59,"v":0.41},{"t":1996.69,"v":-0.14},{"t":1996.78,"v":0.5},{"t":1996.88,"v":0.6},{"t":1996.98,"v":-0.32},{"t":1997.08,"v":0.5},{"t":1997.18,"v":0.41},{"t":1997.27,"v":0.83},{"t":1997.37,"v":-0.5},{"t":1997.47,"v":0.83},{"t":1997.57,"v":0.78},{"t":1997.67,"v":-0.32},{"t":1997.76,"v":0.6},{"t":1997.86,"v":0.5},{"t":1997.96,"v":0.5},{"t":1998.06,"v":0.14},{"t":1998.16,"v":0.23},{"t":1998.25,"v":0.32},{"t":1998.35,"v":-0.32},{"t":1998.45,"v":-0.23},{"t":1998.55,"v":0.05},{"t":1998.65,"v":0.14},{"t":1998.75,"v":-0.23},{"t":1998.84,"v":-0.14},{"t":1998.94,"v":0.14},{"t":1999.04,"v":0.41},{"t":1999.14,"v":-0.41},{"t":1999.24,"v":0.23},{"t":1999.33,"v":0.37},{"t":1999.43,"v":0.41},{"t":1999.53,"v":0.23},{"t":1999.63,"v":0.5},{"t":1999.73,"v":0.6},{"t":1999.82,"v":0.5},{"t":1999.92,"v":-0.41},{"t":2000.02,"v":0.23},{"t":2000.12,"v":0.5},{"t":2000.22,"v":0.5},{"t":2000.31,"v":0.78},{"t":2000.41,"v":-0.32},{"t":2000.51,"v":0.23},{"t":2000.61,"v":0.41},{"t":2000.71,"v":0.23},{"t":2000.8,"v":0.6},{"t":2000.9,"v":-0.87},{"t":2001.0,"v":-0.14},{"t":2001.1,"v":-0.32},{"t":2001.2,"v":-0.87},{"t":2001.29,"v":0.41},{"t":2001.39,"v":0.05},{"t":2001.49,"v":-0.87},{"t":2001.59,"v":1.06},{"t":2001.69,"v":-0.96},{"t":2001.78,"v":-0.87},{"t":2001.88,"v":-0.32},{"t":2001.98,"v":0.23},{"t":2002.08,"v":0.14},{"t":2002.18,"v":0.23},{"t":2002.27,"v":0.05},{"t":2002.37,"v":-0.5},{"t":2002.47,"v":0.05},{"t":2002.57,"v":0.05},{"t":2002.67,"v":-0.14},{"t":2002.76,"v":0.14},{"t":2002.86,"v":-0.92},{"t":2002.96,"v":-0.14},{"t":2003.02,"v":0.96},{"t":2003.12,"v":-0.23},{"t":2003.22,"v":-0.78},{"t":2003.31,"v":-1.06},{"t":2003.41,"v":0.23},{"t":2003.51,"v":0.69},{"t":2003.61,"v":-0.78},{"t":2003.71,"v":0.6},{"t":2003.8,"v":-0.23},{"t":2003.9,"v":-0.41},{"t":2004.0,"v":0.14},{"t":2004.1,"v":0.23},{"t":2004.2,"v":0.23},{"t":2004.29,"v":-0.05},{"t":2004.39,"v":0.23},{"t":2004.49,"v":0.05},{"t":2004.59,"v":-1.01},{"t":2004.69,"v":0.6},{"t":2004.78,"v":0.41},{"t":2004.88,"v":-0.5},{"t":2004.98,"v":0.41},{"t":2005.08,"v":-0.6},{"t":2005.18,"v":-0.5},{"t":2005.27,"v":0.83},{"t":2005.37,"v":-0.32},{"t":2005.47,"v":0.41},{"t":2005.57,"v":-0.14},{"t":2005.67,"v":-0.32},{"t":2005.76,"v":0.41},{"t":2005.84,"v":1.06},{"t":2005.94,"v":-0.32},{"t":2006.04,"v":-0.23},{"t":2006.14,"v":0.23},{"t":2006.24,"v":0.6},{"t":2006.33,"v":-0.32},{"t":2006.43,"v":0.05},{"t":2006.53,"v":-0.14},{"t":2006.63,"v":0.23},{"t":2006.73,"v":0.05},{"t":2006.82,"v":0.23},{"t":2006.92,"v":0.87},{"t":2007.02,"v":-0.5},{"t":2007.12,"v":-0.32},{"t":2007.22,"v":-0.69},{"t":2007.31,"v":0.87},{"t":2007.41,"v":-0.23},{"t":2007.51,"v":-0.5},{"t":2007.61,"v":-0.14},{"t":2007.71,"v":-0.5},{"t":2007.8,"v":0.05},{"t":2007.9,"v":0.41},{"t":2008.0,"v":0.5},{"t":2008.1,"v":0.14},{"t":2008.2,"v":-0.41},{"t":2008.29,"v":-0.23},{"t":2008.35,"v":-1.97},{"t":2008.45,"v":0.05},{"t":2008.55,"v":-1.24},{"t":2008.65,"v":-1.33},{"t":2008.75,"v":-1.33},{"t":2008.8,"v":-3.21},{"t":2008.9,"v":-3.07},{"t":2009.0,"v":-2.89},{"t":2009.08,"v":-1.51},{"t":2009.18,"v":-1.51},{"t":2009.27,"v":-0.5},{"t":2009.37,"v":0.32},{"t":2009.47,"v":0.41},{"t":2009.57,"v":0.41},{"t":2009.67,"v":1.06},{"t":2009.76,"v":0.05},{"t":2009.86,"v":0.32},{"t":2009.96,"v":-0.32},{"t":2010.06,"v":0.41},{"t":2010.16,"v":1.06},{"t":2010.25,"v":0.41},{"t":2010.35,"v":0.96},{"t":2010.45,"v":-0.32},{"t":2010.55,"v":0.41},{"t":2010.65,"v":0.41},{"t":2010.75,"v":0.41},{"t":2010.84,"v":0.5},{"t":2010.94,"v":0.41},{"t":2011.04,"v":0.5},{"t":2011.14,"v":-0.5},{"t":2011.24,"v":-0.14},{"t":2011.33,"v":-0.6},{"t":2011.43,"v":-0.23},{"t":2011.53,"v":-0.5},{"t":2011.63,"v":-0.6},{"t":2011.73,"v":-0.14},{"t":2011.82,"v":-0.23},{"t":2011.92,"v":-0.32},{"t":2012.02,"v":-0.05},{"t":2012.12,"v":-0.5},{"t":2012.22,"v":0.14},{"t":2012.31,"v":-0.69},{"t":2012.41,"v":0.41},{"t":2012.51,"v":0.41},{"t":2012.61,"v":-0.5},{"t":2012.67,"v":-1.38},{"t":2012.76,"v":-0.69},{"t":2012.86,"v":0.05},{"t":2012.96,"v":0.41},{"t":2013.06,"v":0.23},{"t":2013.16,"v":0.5},{"t":2013.25,"v":0.05},{"t":2013.35,"v":-0.14},{"t":2013.45,"v":-0.41},{"t":2013.55,"v":0.23},{"t":2013.65,"v":0.14},{"t":2013.75,"v":0.32},{"t":2013.84,"v":-0.41},{"t":2013.94,"v":0.41},{"t":2014.04,"v":-0.14},{"t":2014.14,"v":0.23},{"t":2014.24,"v":-0.41},{"t":2014.33,"v":0.5},{"t":2014.43,"v":-0.5},{"t":2014.53,"v":0.41},{"t":2014.59,"v":-1.1},{"t":2014.69,"v":0.5},{"t":2014.78,"v":0.41},{"t":2014.88,"v":-0.32},{"t":2014.98,"v":0.78},{"t":2015.08,"v":-0.5},{"t":2015.18,"v":0.05},{"t":2015.27,"v":-0.14},{"t":2015.37,"v":0.05},{"t":2015.47,"v":0.14},{"t":2015.57,"v":-0.14},{"t":2015.67,"v":0.05},{"t":2015.76,"v":-0.32},{"t":2015.86,"v":-0.23},{"t":2015.96,"v":0.41},{"t":2016.02,"v":1.06},{"t":2016.12,"v":-0.14},{"t":2016.22,"v":0.41},{"t":2016.31,"v":-1.74},{"t":2016.41,"v":0.05},{"t":2016.51,"v":0.23},{"t":2016.61,"v":0.32},{"t":2016.71,"v":0.23},{"t":2016.8,"v":0.5},{"t":2016.9,"v":0.14},{"t":2017.0,"v":0.41},{"t":2017.1,"v":-0.14},{"t":2017.2,"v":0.05},{"t":2017.29,"v":0.5},{"t":2017.39,"v":0.05},{"t":2017.49,"v":-0.05},{"t":2017.59,"v":-0.32},{"t":2017.69,"v":-0.23},{"t":2017.78,"v":0.73},{"t":2017.88,"v":0.05},{"t":2017.98,"v":-1.19},{"t":2018.08,"v":0.05},{"t":2018.18,"v":0.5},{"t":2018.27,"v":0.23},{"t":2018.37,"v":-0.5},{"t":2018.47,"v":0.41},{"t":2018.57,"v":-0.41},{"t":2018.67,"v":-0.32},{"t":2018.76,"v":-0.73},{"t":2018.86,"v":0.05},{"t":2018.96,"v":0.28},{"t":2019.06,"v":-0.14},{"t":2019.16,"v":-0.32},{"t":2019.25,"v":0.23},{"t":2019.35,"v":-0.6},{"t":2019.45,"v":-0.23},{"t":2019.55,"v":-0.05},{"t":2019.65,"v":-0.23},{"t":2019.75,"v":-0.14},{"t":2019.84,"v":-0.23},{"t":2019.94,"v":0.69},{"t":2020.04,"v":-0.5},{"t":2020.22,"v":-9},{"t":2020.4,"v":9},{"t":2020.53,"v":1.33},{"t":2020.63,"v":0.96},{"t":2020.73,"v":0.78},{"t":2020.82,"v":1.24},{"t":2020.92,"v":-0.32},{"t":2021.02,"v":0.6},{"t":2021.12,"v":-1.61},{"t":2021.22,"v":1.42},{"t":2021.31,"v":-0.5},{"t":2021.41,"v":0.05},{"t":2021.51,"v":0.05},{"t":2021.61,"v":-0.5},{"t":2021.71,"v":1.06},{"t":2021.8,"v":-0.23},{"t":2021.9,"v":-0.05},{"t":2022.0,"v":0.05},{"t":2022.1,"v":-0.32},{"t":2022.2,"v":0.05},{"t":2022.29,"v":0.14},{"t":2022.39,"v":-0.41},{"t":2022.49,"v":0.05},{"t":2022.59,"v":-0.32},{"t":2022.69,"v":-0.78},{"t":2022.78,"v":0.05},{"t":2022.88,"v":-0.14},{"t":2022.98,"v":0.37},{"t":2023.08,"v":-0.5},{"t":2023.18,"v":-0.41},{"t":2023.27,"v":-0.23},{"t":2023.37,"v":-0.41},{"t":2023.47,"v":-0.14},{"t":2023.57,"v":-0.41},{"t":2023.67,"v":-0.41},{"t":2023.76,"v":-0.37},{"t":2023.86,"v":-0.23},{"t":2023.96,"v":0.23},{"t":2024.06,"v":0.23},{"t":2024.16,"v":-0.14}
]
},
"vconcat": [
{
  "width": 934, "height": 368,
  "title": {"text": "Global rate factor", "dx": 4, "offset": 10},
  "layer": [
    {"data": {"name": "bands"}, "mark": {"type": "rect", "color": "#F2F2F2"},
     "encoding": {
       "x": {"field": "s", "type": "quantitative", "scale": {"domain": [1970, 2024.2], "range": [21, 934], "nice": false, "zero": false}, "axis": {"orient": "top", "labels": false, "domainColor": "#555"}},
       "x2": {"field": "e"},
       "y": {"datum": -3.04, "type": "quantitative", "scale": {"domain": [-3, 3], "nice": false, "zero": false}, "axis": {"orient": "right", "labels": false, "domainColor": "#888"}},
       "y2": {"datum": 3.04}
     }},
    {"data": {"name": "zero"}, "mark": {"type": "rule", "color": "#000", "strokeWidth": 1}, "encoding": {"x": {"field": "a", "type": "quantitative", "axis": null}, "x2": {"field": "b"}, "y": {"field": "y", "type": "quantitative", "axis": null}}},
    {"data": {"name": "rate"}, "mark": {"type": "line", "color": "#002060", "strokeWidth": 3.6, "clip": true},
     "encoding": {
       "x": {"field": "t", "type": "quantitative", "axis": {"orient": "bottom", "values": [1970, 1980, 1990, 2000, 2010, 2020], "format": "d", "labelPadding": 17, "labelFlush": false}},
       "y": {"field": "v", "type": "quantitative", "axis": {"orient": "left", "values": [-3, -2, -1, 0, 1, 2, 3], "labelPadding": 25, "offset": -21, "labelExpr": "datum.value < 0 ? '-' + abs(datum.value) : '' + datum.value"}}
     }}
  ],
  "resolve": {"axis": {"x": "independent", "y": "independent"}}
},
{
  "width": 955, "height": 376,
  "title": {"text": "Global inflation factor", "dx": -6.5, "offset": 23},
  "layer": [
    {"data": {"name": "bands"}, "mark": {"type": "rect", "color": "#F2F2F2"},
     "encoding": {
       "x": {"field": "s", "type": "quantitative", "scale": {"domain": [1970, 2024.2], "nice": false, "zero": false}, "axis": {"orient": "top", "labels": false, "domainColor": "#888"}},
       "x2": {"field": "e"},
       "y": {"datum": -3.04, "type": "quantitative", "scale": {"domain": [-3, 3], "nice": false, "zero": false}, "axis": {"orient": "right", "labels": false, "domainColor": "#888"}},
       "y2": {"datum": 3.04}
     }},
    {"data": {"name": "zero"}, "mark": {"type": "rule", "color": "#666", "strokeWidth": 1.2}, "encoding": {"x": {"field": "a", "type": "quantitative", "axis": null}, "x2": {"field": "b"}, "y": {"field": "y", "type": "quantitative", "axis": null}}},
    {"data": {"name": "infl"}, "mark": {"type": "line", "color": "#FF0000", "strokeWidth": 3.5, "clip": true},
     "encoding": {
       "x": {"field": "t", "type": "quantitative", "axis": {"orient": "bottom", "values": [1970, 1980, 1990, 2000, 2010, 2020], "format": "d", "labelPadding": 19, "labelFlush": false, "minExtent": 52}},
       "y": {"field": "v", "type": "quantitative", "axis": {"orient": "left", "values": [-3, -2, -1, 0, 1, 2, 3], "labelPadding": 27, "minExtent": 60, "labelExpr": "datum.value < 0 ? '-' + abs(datum.value) : '' + datum.value"}}
     }}
  ],
  "resolve": {"axis": {"x": "independent", "y": "independent"}}
},
{
  "width": 940, "height": 363,
  "title": {"text": "Global output factor", "dx": 1, "offset": 22},
  "layer": [
    {"data": {"name": "bands"}, "mark": {"type": "rect", "color": "#F2F2F2"},
     "encoding": {
       "x": {"field": "s", "type": "quantitative", "scale": {"domain": [1970, 2024.2], "range": [19, 940], "nice": false, "zero": false}, "axis": {"orient": "top", "labels": false, "domainColor": "#444"}},
       "x2": {"field": "e"},
       "y": {"datum": -5.06, "type": "quantitative", "scale": {"domain": [-5, 5], "nice": false, "zero": false}, "axis": {"orient": "right", "labels": false, "domainColor": "#888"}},
       "y2": {"datum": 5.06}
     }},
    {"data": {"name": "zero"}, "mark": {"type": "rule", "color": "#666", "strokeWidth": 1.2}, "encoding": {"x": {"field": "a", "type": "quantitative", "axis": null}, "x2": {"field": "b"}, "y": {"field": "y", "type": "quantitative", "axis": null}}},
    {"data": {"name": "out"}, "mark": {"type": "line", "color": "#ED7D31", "strokeWidth": 3, "clip": true},
     "encoding": {
       "x": {"field": "t", "type": "quantitative", "axis": {"orient": "bottom", "values": [1970, 1980, 1990, 2000, 2010, 2020], "format": "d", "labelPadding": 18, "labelFlush": false}},
       "y": {"field": "v", "type": "quantitative", "axis": {"orient": "left", "values": [-5, -4, -3, -2, -1, 0, 1, 2, 3, 4, 5], "labelPadding": 25, "offset": -19, "labelExpr": "datum.value < 0 ? '-' + abs(datum.value) : '' + datum.value"}}
     }}
  ],
  "resolve": {"axis": {"x": "independent", "y": "independent"}}
}
]
}
